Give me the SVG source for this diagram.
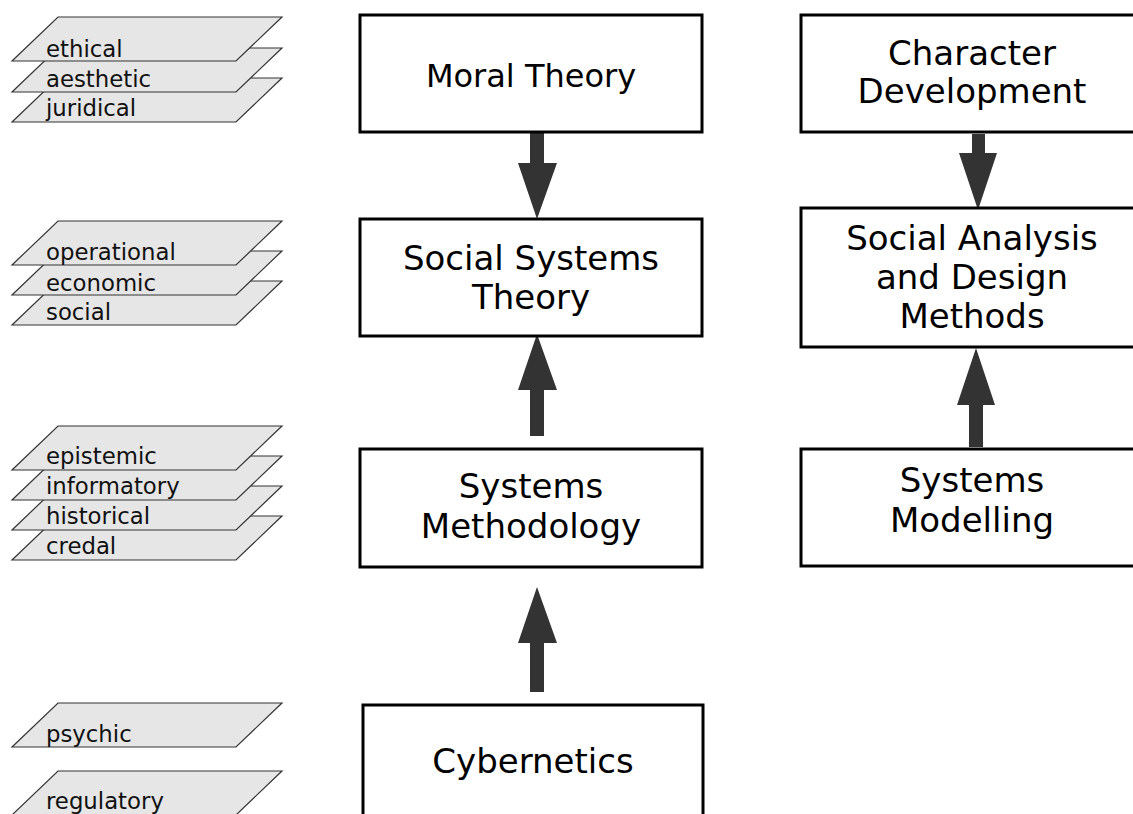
<svg xmlns="http://www.w3.org/2000/svg" width="1133" height="814" viewBox="0 0 1133 814">
  <style>
    .layer { fill: #e6e6e6; stroke: #333333; stroke-width: 1.2; }
    .layer-label { font-family: "DejaVu Sans", "Liberation Sans", sans-serif; font-size: 22.8px; fill: #111111; }
    .box { fill: #ffffff; stroke: #000000; stroke-width: 3; }
    .box-label { font-family: "DejaVu Sans", "Liberation Sans", sans-serif; font-size: 34px; fill: #000000; text-anchor: middle; }
    .arrow { fill: #333333; stroke: none; }
  </style>
  <defs>
    <!-- one layer plane: 44px tall, slanted 46px -->
    <path id="plane" d="M12,44 L58,0 L282,0 L236,44 Z"/>
  </defs>
  <rect x="0" y="0" width="1133" height="814" fill="#ffffff"/>

  <!-- layer stacks, bottom plane drawn first -->
  <g id="layers-moral">
    <use href="#plane" class="layer" transform="translate(0,78)"/>
    <text class="layer-label" x="46" y="116">juridical</text>
    <use href="#plane" class="layer" transform="translate(0,48)"/>
    <text class="layer-label" x="46" y="87">aesthetic</text>
    <use href="#plane" class="layer" transform="translate(0,17)"/>
    <text class="layer-label" x="46" y="57">ethical</text>
  </g>
  <g id="layers-social">
    <use href="#plane" class="layer" transform="translate(0,281)"/>
    <text class="layer-label" x="46" y="320">social</text>
    <use href="#plane" class="layer" transform="translate(0,251)"/>
    <text class="layer-label" x="46" y="291">economic</text>
    <use href="#plane" class="layer" transform="translate(0,221)"/>
    <text class="layer-label" x="46" y="260">operational</text>
  </g>
  <g id="layers-methodology">
    <use href="#plane" class="layer" transform="translate(0,516)"/>
    <text class="layer-label" x="46" y="554">credal</text>
    <use href="#plane" class="layer" transform="translate(0,486)"/>
    <text class="layer-label" x="46" y="524">historical</text>
    <use href="#plane" class="layer" transform="translate(0,456)"/>
    <text class="layer-label" x="46" y="494">informatory</text>
    <use href="#plane" class="layer" transform="translate(0,426)"/>
    <text class="layer-label" x="46" y="464">epistemic</text>
  </g>
  <g id="layers-cybernetics">
    <use href="#plane" class="layer" transform="translate(0,703)"/>
    <text class="layer-label" x="46" y="742">psychic</text>
    <use href="#plane" class="layer" transform="translate(0,771)"/>
    <text class="layer-label" x="46" y="809">regulatory</text>
  </g>

  <!-- connectors -->
  <g id="connectors">
    <polygon class="arrow" points="530,132 544,132 544,163 557,163 537,219 518,163 530,163"/>
    <polygon class="arrow" points="530,436 544,436 544,390 557,390 537,334 518,390 530,390"/>
    <polygon class="arrow" points="530,692 544,692 544,643 557,643 537,587 518,643 530,643"/>
    <polygon class="arrow" points="972,134 985,134 985,153 997,153 978,210 959,153 972,153"/>
    <polygon class="arrow" points="969,447 983,447 983,405 995,405 976,348 957,405 969,405"/>
  </g>

  <!-- nodes -->
  <g id="moral-theory">
    <rect class="box" x="360" y="15" width="342" height="117"/>
    <text class="box-label" x="531" y="87" style="font-size:32px">Moral Theory</text>
  </g>
  <g id="social-systems-theory">
    <rect class="box" x="360" y="219" width="342" height="117"/>
    <text class="box-label" x="531" y="270">Social Systems</text>
    <text class="box-label" x="531" y="309">Theory</text>
  </g>
  <g id="systems-methodology">
    <rect class="box" x="360" y="449" width="342" height="118"/>
    <text class="box-label" x="531" y="498">Systems</text>
    <text class="box-label" x="531" y="538">Methodology</text>
  </g>
  <g id="cybernetics">
    <rect class="box" x="363" y="705" width="340" height="130"/>
    <text class="box-label" x="533" y="773">Cybernetics</text>
  </g>
  <g id="character-development">
    <rect class="box" x="801" y="15" width="342" height="117"/>
    <text class="box-label" x="972" y="65">Character</text>
    <text class="box-label" x="972" y="103">Development</text>
  </g>
  <g id="social-analysis">
    <rect class="box" x="801" y="208" width="342" height="139"/>
    <text class="box-label" x="972" y="250">Social Analysis</text>
    <text class="box-label" x="972" y="289">and Design</text>
    <text class="box-label" x="972" y="328">Methods</text>
  </g>
  <g id="systems-modelling">
    <rect class="box" x="801" y="449" width="342" height="117"/>
    <text class="box-label" x="972" y="492">Systems</text>
    <text class="box-label" x="972" y="532">Modelling</text>
  </g>
</svg>
